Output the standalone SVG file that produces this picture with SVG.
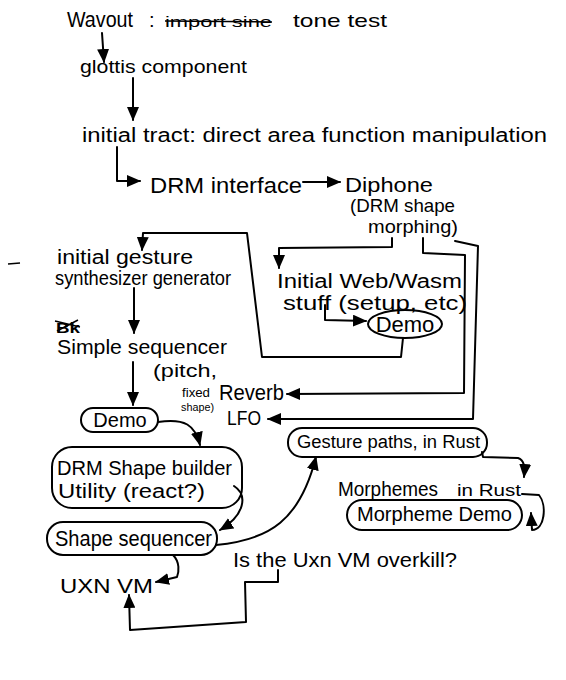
<svg xmlns="http://www.w3.org/2000/svg" width="566" height="680" viewBox="0 0 566 680">
<defs>
<marker id="ah" markerUnits="userSpaceOnUse" markerWidth="14" markerHeight="12" refX="13" refY="6" orient="auto">
<path d="M0,0 L14,6 L0,12 Z" fill="#000"/>
</marker>
<style>
text{font-family:"Liberation Sans","DejaVu Sans",sans-serif;fill:#000;}
.c{fill:none;stroke:#000;stroke-width:2;stroke-linejoin:round;stroke-linecap:round;marker-end:url(#ah);}
.b{fill:none;stroke:#000;stroke-width:2;}
.s{fill:none;stroke:#000;stroke-width:1.5;}
</style>
</defs>
<rect width="566" height="680" fill="#fff"/>
<g id="connectors">
<path class="c" d="M102,33 L104,62"/>
<path class="c" d="M133,78 L133,120"/>
<path class="c" d="M117,147 L117,181 L140,181"/>
<path class="c" d="M303,182 L340,182"/>
<path class="c" d="M392,238 L392,247 L279,248 L279,268"/>
<path class="c" d="M403,338 L401,357 L262,357 L247,233 L143,233 L142,250"/>
<path class="c" d="M325,305 L325,320 L366,321"/>
<path class="c" d="M423,238 L423,253 L465,255 L464,393 L287,394"/>
<path class="c" d="M455,241 L478,246 L473,419 L268,419"/>
<path class="c" d="M134,288 L134,333"/>
<path class="c" d="M133,362 L133,405"/>
<path class="c" d="M158,422 C185,418 195,425 200,445"/>
<path class="c" d="M234,486 C248,495 245,515 220,530"/>
<path class="c" d="M216,545 C270,540 300,520 316,457"/>
<path class="c" d="M482,452 L483,457 L518,458 C524,460 525,466 524,477"/>
<path class="c" d="M522,494 L539,495 C547,505 545,530 532,530 L531,513"/>
<path class="c" d="M173,555 C180,562 179,572 177,577 L156,582"/>
<path class="c" d="M278,570 L278,582 L245,582 L246,622 L130,630 L129,595"/>
</g>
<g id="wavout">
<text x="67" y="27" font-size="22" textLength="66" lengthAdjust="spacingAndGlyphs">Wavout</text>
<text x="149" y="27" font-size="20">:</text>
<text x="165" y="27" font-size="15" textLength="107" lengthAdjust="spacingAndGlyphs">import sine</text>
<line class="s" x1="165" y1="21" x2="272" y2="22"/>
<text x="293" y="27" font-size="19" textLength="94" lengthAdjust="spacingAndGlyphs">tone test</text>
</g>
<g id="glottis">
<text x="80" y="73" font-size="19" textLength="167" lengthAdjust="spacingAndGlyphs">glottis component</text>
</g>
<g id="tract">
<text x="82" y="142" font-size="20" textLength="465" lengthAdjust="spacingAndGlyphs">initial tract: direct area function manipulation</text>
</g>
<g id="drm-interface">
<text x="150" y="193" font-size="22" textLength="152" lengthAdjust="spacingAndGlyphs">DRM interface</text>
</g>
<g id="diphone">
<text x="345" y="192" font-size="20" textLength="88" lengthAdjust="spacingAndGlyphs">Diphone</text>
<text x="350" y="212" font-size="19" textLength="105" lengthAdjust="spacingAndGlyphs">(DRM shape</text>
<text x="368" y="233" font-size="19" textLength="90" lengthAdjust="spacingAndGlyphs">morphing)</text>
</g>
<g id="dash"><line class="s" x1="8" y1="264" x2="20" y2="263"/></g>
<g id="gesture-synth">
<text x="57" y="264" font-size="20" textLength="136" lengthAdjust="spacingAndGlyphs">initial gesture</text>
<text x="55" y="285" font-size="20" textLength="176" lengthAdjust="spacingAndGlyphs">synthesizer generator</text>
</g>
<g id="web">
<text x="277" y="288" font-size="20" textLength="185" lengthAdjust="spacingAndGlyphs">Initial Web/Wasm</text>
<text x="283" y="310" font-size="20" textLength="184" lengthAdjust="spacingAndGlyphs">stuff (setup, etc)</text>
</g>
<g id="web-demo">
<ellipse class="b" cx="405" cy="324" rx="37" ry="14"/>
<text x="405" y="332" font-size="22" text-anchor="middle">Demo</text>
</g>
<g id="bk">
<text x="56" y="333" font-size="14" font-weight="bold" textLength="24" lengthAdjust="spacingAndGlyphs">Bk</text>
<path class="s" d="M55,321 L80,327 M57,331 L78,320"/>
</g>
<g id="simple-seq">
<text x="57" y="354" font-size="21" textLength="170" lengthAdjust="spacingAndGlyphs">Simple sequencer</text>
<text x="153" y="377" font-size="18" textLength="64" lengthAdjust="spacingAndGlyphs">(pitch,</text>
<text x="182" y="397" font-size="13" textLength="28" lengthAdjust="spacingAndGlyphs">fixed</text>
<text x="181" y="411" font-size="11" textLength="33" lengthAdjust="spacingAndGlyphs">shape)</text>
</g>
<g id="reverb">
<text x="219" y="400" font-size="22" textLength="65" lengthAdjust="spacingAndGlyphs">Reverb</text>
</g>
<g id="lfo">
<text x="227" y="425" font-size="21" textLength="34" lengthAdjust="spacingAndGlyphs">LFO</text>
</g>
<g id="demo">
<rect class="b" x="81" y="408" width="77" height="24" rx="12"/>
<text x="120" y="427" font-size="20" text-anchor="middle">Demo</text>
</g>
<g id="shape-builder">
<rect class="b" x="52" y="447" width="190" height="61" rx="20"/>
<text x="57" y="475" font-size="20" textLength="175" lengthAdjust="spacingAndGlyphs">DRM Shape builder</text>
<text x="58" y="498" font-size="20" textLength="147" lengthAdjust="spacingAndGlyphs">Utility (react?)</text>
</g>
<g id="gesture-paths">
<rect class="b" x="288" y="428" width="199" height="29" rx="14"/>
<text x="297" y="448" font-size="18" textLength="183" lengthAdjust="spacingAndGlyphs">Gesture paths, in Rust</text>
</g>
<g id="morphemes">
<text x="338" y="496" font-size="20" textLength="100" lengthAdjust="spacingAndGlyphs">Morphemes</text>
<text x="457" y="496" font-size="16" textLength="64" lengthAdjust="spacingAndGlyphs">in Rust</text>
</g>
<g id="morpheme-demo">
<rect class="b" x="347" y="500" width="175" height="30" rx="15"/>
<text x="357" y="521" font-size="20" textLength="155" lengthAdjust="spacingAndGlyphs">Morpheme Demo</text>
</g>
<g id="shape-seq">
<rect class="b" x="47" y="522" width="170" height="33" rx="16"/>
<text x="55" y="546" font-size="22" textLength="157" lengthAdjust="spacingAndGlyphs">Shape sequencer</text>
</g>
<g id="question">
<text x="233" y="567" font-size="20" textLength="224" lengthAdjust="spacingAndGlyphs">Is the Uxn VM overkill?</text>
</g>
<g id="uxn">
<text x="60" y="593" font-size="21" textLength="93" lengthAdjust="spacingAndGlyphs">UXN VM</text>
</g>
</svg>
